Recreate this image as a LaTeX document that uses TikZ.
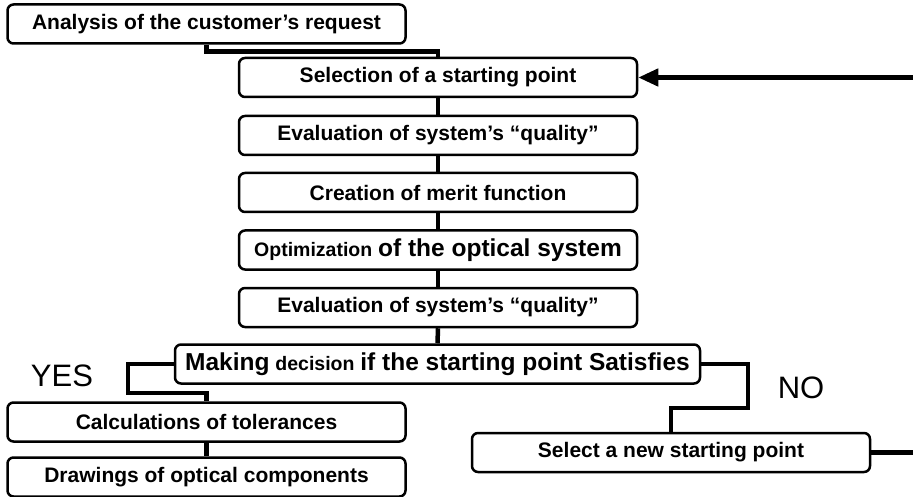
\documentclass[tikz,border=0pt]{standalone}
\usepackage{fontspec}
\setmainfont{Liberation Sans}
\usetikzlibrary{arrows.meta}
\newcommand{\bigtxt}[1]{{\fontsize{24.5}{26}\selectfont #1}}
\newcommand{\smltxt}[1]{{\fontsize{19.5}{21}\selectfont #1}}
\begin{document}
\begin{tikzpicture}[x=1pt,y=-1pt,
  box/.style={draw,line width=2.5pt,rounded corners=6pt,fill=white,inner sep=0pt,
    font=\bfseries\fontsize{21}{23}\selectfont,minimum height=39pt},
  link/.style={line width=4.5pt,line join=miter},
  answer/.style={font=\fontsize{31}{33}\selectfont}]
\useasboundingbox (0,0) rectangle (913,497);
% the steps of the design
\node[box,minimum width=398pt] (analysis) at (206.5,24) {Analysis of the customer’s request};
\node[box,minimum width=398pt] (selection) at (438,77.5) {Selection of a starting point};
\node[box,minimum width=398pt] (quality1) at (438,135.5) {Evaluation of system’s “quality”};
\node[box,minimum width=398pt] (merit) at (438,192.5) {Creation of merit function};
\node[box,minimum width=398pt] (optim) at (438,250) {\smltxt{Optimization} \bigtxt{of the optical system}};
\node[box,minimum width=398pt] (quality2) at (438,307.5) {Evaluation of system’s “quality”};
\node[box,minimum width=525pt] (decision) at (437.5,364) {\bigtxt{Making} \smltxt{decision} \bigtxt{if the starting point Satisfies}};
\node[box,minimum width=398pt] (tolerance) at (206.5,422) {Calculations of tolerances};
\node[box,minimum width=398pt] (drawings) at (206.5,477) {Drawings of optical components};
\node[box,minimum width=398pt] (newstart) at (671,452.5) {Select a new starting point};
% answers
\node[answer] (yes) at (62,376) {YES};
\node[answer] (no) at (801,388) {NO};
% links
\draw[link] (analysis.south) -- ++(0,7) -| (selection.north);
\draw[link] (selection.south) -- (quality1.north);
\draw[link] (quality1.south) -- (merit.north);
\draw[link] (merit.south) -- (optim.north);
\draw[link] (optim.south) -- (quality2.north);
\draw[link] (quality2.south) -- (decision.north);
\draw[link] (decision.west) -| (128,393) -| (tolerance.north);
\draw[link] (tolerance.south) -- (drawings.north);
\draw[link] (decision.east) -| (748,408) -| (newstart.north);
% back to the start
\coordinate (outR) at (913,452.5);
\coordinate (inR) at (913,77.5);
\draw[link] (newstart.east) -- (outR);
\draw[link,-{Triangle[length=20pt,width=17pt]}] (inR) -- (selection.east);
\end{tikzpicture}
\end{document}
